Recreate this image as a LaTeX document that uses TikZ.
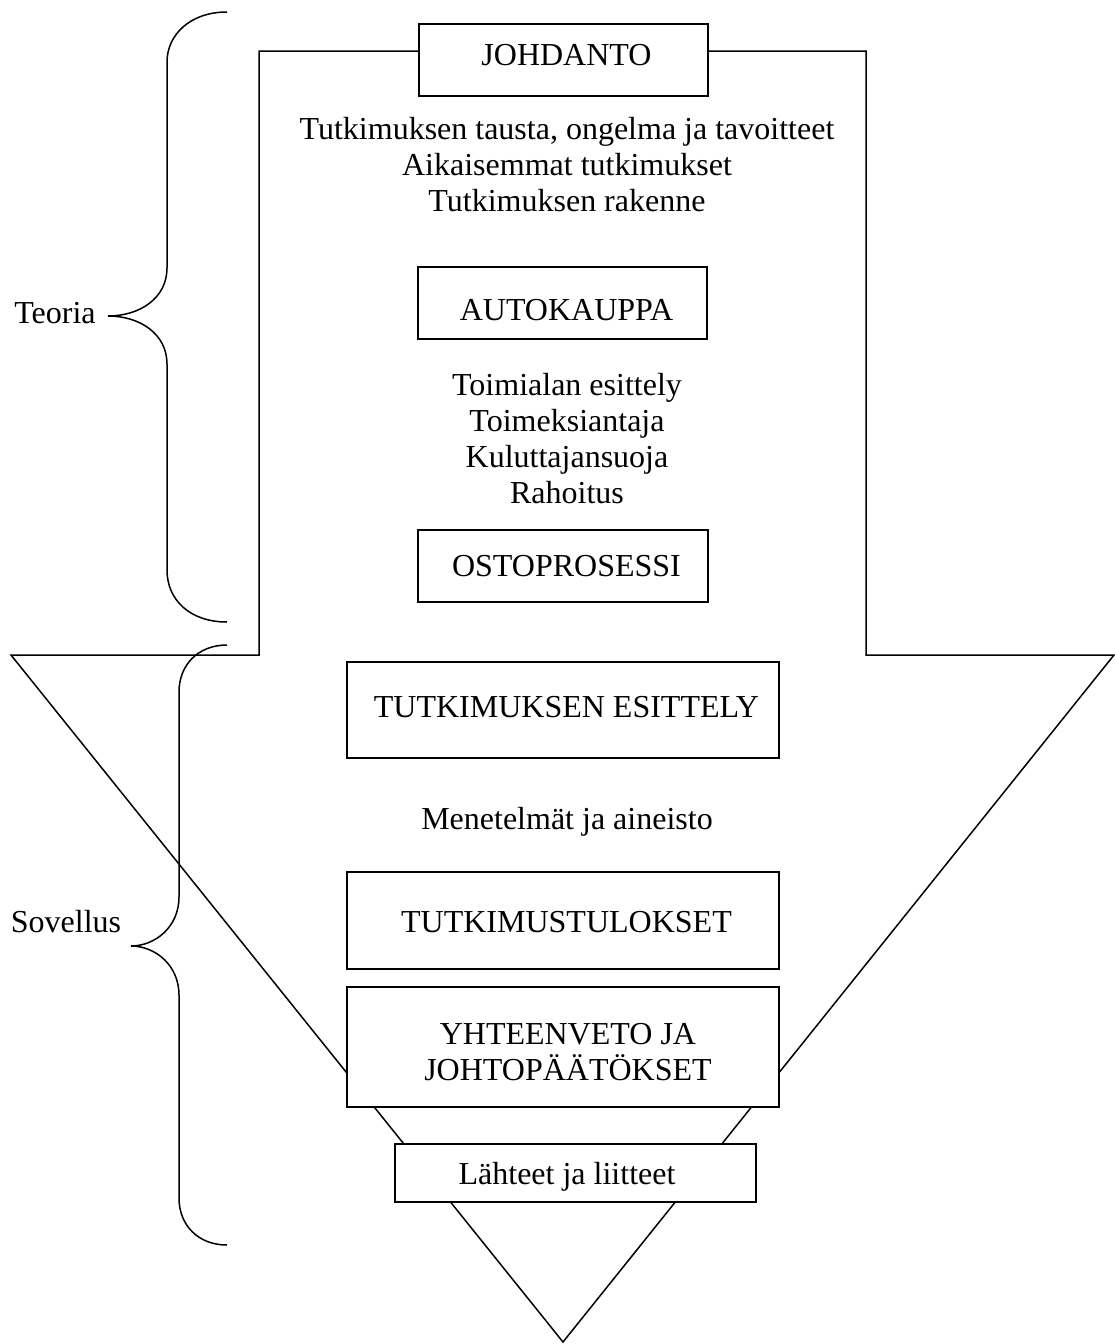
\documentclass[tikz,border=0pt]{standalone}
\usepackage{fontspec}
\setmainfont{Liberation Serif}
\begin{document}
\begin{tikzpicture}[x=1pt,y=-1pt, line width=1.5pt,
  box/.style={draw, fill=white, line width=1.5pt, inner sep=0pt},
  lbl/.style={inner sep=0pt, align=center, font=\fontsize{32}{36}\selectfont},
  outline/.style={line width=1.5pt, line join=miter},
  brace/.style={line width=1.5pt}]
\useasboundingbox (0,0) rectangle (1115,1344);
% arrow outline
\coordinate (tl) at (259,51);
\coordinate (tr) at (866,51);
\coordinate (mr) at (866,655);
\coordinate (er) at (1114,655);
\coordinate (tip) at (563,1342);
\coordinate (el) at (11,655);
\coordinate (ml) at (259,655);
\draw[outline] (tl) -- (tr) -- (mr) -- (er) -- (tip) -- (el) -- (ml) -- cycle;
% boxes
\node[box, minimum width=289pt, minimum height=72pt,
  label={[lbl, xshift=3pt, yshift=5pt]center:JOHDANTO}] (johdanto) at (563.5,60) {};
\node[box, minimum width=289pt, minimum height=72pt,
  label={[lbl, xshift=4pt, yshift=-7pt]center:AUTOKAUPPA}] (autokauppa) at (562.5,303) {};
\node[box, minimum width=290pt, minimum height=72pt,
  label={[lbl, xshift=3.5pt]center:OSTOPROSESSI}] (ostoprosessi) at (563,566) {};
\node[box, minimum width=432pt, minimum height=96pt,
  label={[lbl, xshift=3.5pt, yshift=3pt]center:TUTKIMUKSEN ESITTELY}] (esittely) at (563,710) {};
\node[box, minimum width=432pt, minimum height=97pt,
  label={[lbl, xshift=3.5pt, yshift=-1.5pt]center:TUTKIMUSTULOKSET}] (tulokset) at (563,920.5) {};
\node[box, minimum width=432pt, minimum height=120pt,
  label={[lbl, xshift=5pt, yshift=-5pt]center:{YHTEENVETO JA\\JOHTOPÄÄTÖKSET}}] (yhteenveto) at (563,1047) {};
\node[box, minimum width=361pt, minimum height=58pt,
  label={[lbl, xshift=-8.5pt, yshift=-4pt]center:Lähteet ja liitteet}] (lahteet) at (575.5,1173) {};
% texts
\node[lbl] (txt1) at (567,165) {Tutkimuksen tausta, ongelma ja tavoitteet\\Aikaisemmat tutkimukset\\Tutkimuksen rakenne};
\node[lbl] (txt2) at (567,439) {Toimialan esittely\\Toimeksiantaja\\Kuluttajansuoja\\Rahoitus};
\node[lbl] (txt3) at (567,822) {Menetelmät ja aineisto};
\node[lbl] (teoria) at (55,313) {Teoria};
\node[lbl] (sovellus) at (66,922) {Sovellus};
% braces
\draw[brace] (227,12) .. controls (190,12) and (167,35) .. (167,62) -- (167,268) .. controls (167,298) and (140,316) .. (108,316) .. controls (140,316) and (167,334) .. (167,364) -- (167,570) .. controls (167,600) and (190,622) .. (227,622);
\draw[brace] (227,645) .. controls (198,645) and (179,665) .. (179,692) -- (179,897) .. controls (179,927) and (155,946) .. (131,946) .. controls (155,946) and (179,965) .. (179,995) -- (179,1198) .. controls (179,1225) and (198,1245) .. (227,1245);
\end{tikzpicture}
\end{document}
